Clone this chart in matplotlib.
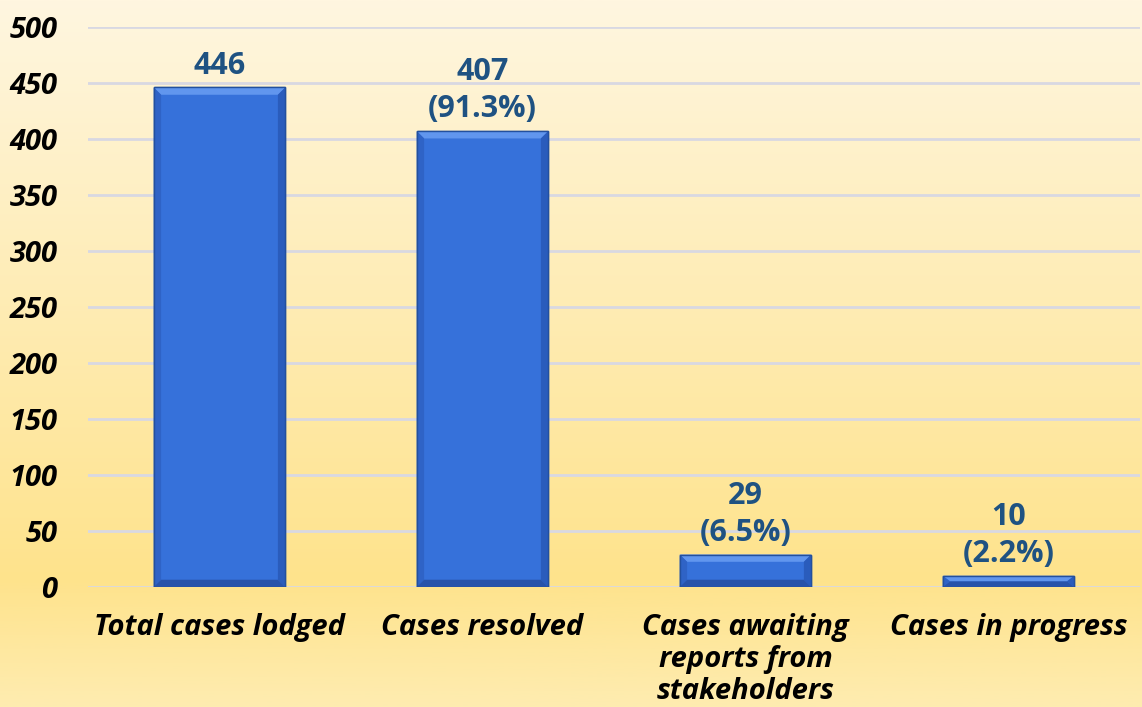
import numpy as np
import matplotlib.pyplot as plt
from matplotlib.colors import LinearSegmentedColormap
from matplotlib.patches import Polygon

categories = ['Total cases lodged', 'Cases resolved',
              'Cases awaiting\nreports from\nstakeholders', 'Cases in progress']
counts = [446, 407, 29, 10]
shares = [None, 91.3, 6.5, 2.2]
yticks = [0, 50, 100, 150, 200, 250, 300, 350, 400, 450, 500]

plt.rcParams['font.family'] = ['Open Sans', 'DejaVu Sans']

fig = plt.figure(figsize=(11.42, 7.07), dpi=100)

# warm vertical gradient behind everything
bg = fig.add_axes([0, 0, 1, 1], zorder=-10)
bg_cmap = LinearSegmentedColormap.from_list(
    'bg', [(0.0, '#feecb0'), (0.18, '#fee38c'), (1.0, '#fff6e0')])
bg.imshow(np.linspace(0, 1, 256).reshape(-1, 1), aspect='auto', cmap=bg_cmap,
          origin='lower', extent=[0, 1, 0, 1])
bg.axis('off')

ax = fig.add_axes([88 / 1142, 1 - 587 / 707, 1052 / 1142, 560 / 707])
ax.patch.set_alpha(0)
x = np.arange(len(categories))
width = 0.5

ax.set_xlim(-0.5, len(categories) - 0.5)
ax.set_ylim(0, 500)
ax.set_yticks(yticks)
ax.grid(axis='y', color='#d8d8e2', linewidth=2)
ax.set_axisbelow(True)
for s in ax.spines.values():
    s.set_visible(False)
ax.tick_params(axis='x', length=0, pad=19)
ax.tick_params(axis='y', length=0, pad=22)
for lab in ax.get_yticklabels():
    lab.set_fontsize(21)
    lab.set_fontweight('bold')
    lab.set_fontstyle('italic')
ax.set_xticks(x)
ax.set_xticklabels(categories, fontsize=21, fontweight='bold', fontstyle='italic',
                   linespacing=1.12, va='top')

bars = ax.bar(x, counts, width=width, color='#3671da', edgecolor='#23509e',
              linewidth=1, zorder=3)

# bevelled edges on each bar
bx = 0.028   # bevel in x data units
by = 6.5     # bevel in y data units
for rect in bars:
    x0, y0 = rect.get_x(), rect.get_y()
    w, h = rect.get_width(), rect.get_height()
    b = min(by, h / 2)
    x1, y1 = x0 + w, y0 + h
    faces = [
        ([(x0, y1), (x1, y1), (x1 - bx, y1 - b), (x0 + bx, y1 - b)], '#6196ee'),
        ([(x0, y0), (x0, y1), (x0 + bx, y1 - b), (x0 + bx, y0 + b)], '#2f63c6'),
        ([(x1, y0), (x1, y1), (x1 - bx, y1 - b), (x1 - bx, y0 + b)], '#2a5cbc'),
        ([(x0, y0), (x1, y0), (x1 - bx, y0 + b), (x0 + bx, y0 + b)], '#2853aa'),
    ]
    for pts, c in faces:
        ax.add_patch(Polygon(pts, closed=True, facecolor=c, edgecolor='none', zorder=4))
    ax.add_patch(plt.Rectangle((x0, y0), w, h, fill=False, edgecolor='#23509e',
                               linewidth=1, zorder=5))

for xi, n, p in zip(x, counts, shares):
    label = f'{n}' if p is None else f'{n}\n({p}%)'
    ax.annotate(label, (xi, n), xytext=(0, 5), textcoords='offset points',
                ha='center', va='bottom', fontsize=22, fontweight='bold',
                color='#1f5282', linespacing=1.3, zorder=6)

fig.savefig('out.png', dpi=100)
